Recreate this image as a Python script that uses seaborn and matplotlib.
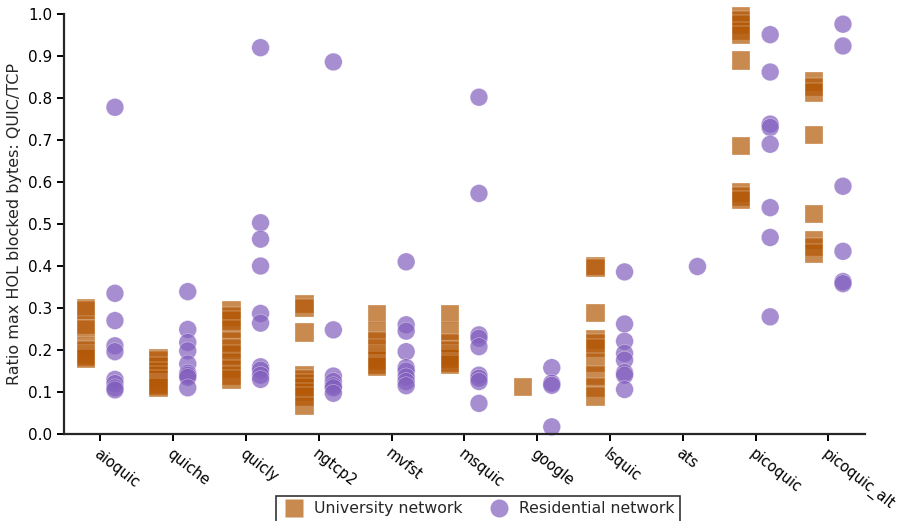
import pandas as pd
import matplotlib
matplotlib.use("Agg")
import matplotlib.pyplot as plt
from matplotlib.lines import Line2D
import seaborn as sns

# --- data ---
implementations = ["aioquic", "quiche", "quicly", "ngtcp2", "mvfst", "msquic",
                   "google", "lsquic", "ats", "picoquic", "picoquic_alt"]
networks = ["University network", "Residential network"]

university = {
    "aioquic": [0.30, 0.295, 0.26, 0.25, 0.21, 0.20, 0.19, 0.185, 0.18],
    "quiche": [0.18, 0.175, 0.16, 0.15, 0.14, 0.13, 0.12, 0.115, 0.11],
    "quicly": [0.295, 0.28, 0.27, 0.25, 0.22, 0.205, 0.19, 0.17, 0.155, 0.14, 0.13],
    "ngtcp2": [0.31, 0.30, 0.242, 0.14, 0.13, 0.12, 0.11, 0.10, 0.09, 0.067],
    "mvfst": [0.286, 0.245, 0.22, 0.205, 0.19, 0.185, 0.18, 0.175, 0.165, 0.16],
    "msquic": [0.286, 0.245, 0.215, 0.20, 0.19, 0.185, 0.18, 0.17, 0.165],
    "google": [0.113],
    "lsquic": [0.40, 0.395, 0.288, 0.225, 0.215, 0.205, 0.17, 0.14, 0.11, 0.09],
    "ats": [],
    "picoquic": [0.995, 0.985, 0.975, 0.96, 0.95, 0.89, 0.686, 0.575, 0.565, 0.557],
    "picoquic_alt": [0.84, 0.826, 0.813, 0.712, 0.524, 0.462, 0.445, 0.43],
}
residential = {
    "aioquic": [0.778, 0.335, 0.27, 0.21, 0.196, 0.13, 0.12, 0.11, 0.105],
    "quiche": [0.339, 0.249, 0.218, 0.198, 0.167, 0.145, 0.14, 0.135, 0.11],
    "quicly": [0.92, 0.503, 0.464, 0.40, 0.287, 0.264, 0.16, 0.152, 0.14, 0.13],
    "ngtcp2": [0.886, 0.248, 0.138, 0.125, 0.115, 0.11, 0.097],
    "mvfst": [0.41, 0.26, 0.245, 0.196, 0.158, 0.15, 0.136, 0.125, 0.115],
    "msquic": [0.802, 0.573, 0.236, 0.228, 0.208, 0.14, 0.133, 0.125, 0.073],
    "google": [0.158, 0.121, 0.116, 0.017],
    "lsquic": [0.386, 0.262, 0.221, 0.192, 0.176, 0.146, 0.14, 0.106],
    "ats": [0.399],
    "picoquic": [0.951, 0.862, 0.738, 0.73, 0.69, 0.539, 0.468, 0.279],
    "picoquic_alt": [0.976, 0.924, 0.59, 0.435, 0.363, 0.358],
}

colors = {"University network": "#b35806", "Residential network": "#825fbe"}
markers = {"University network": "s", "Residential network": "o"}
sizes = {"University network": 13.4, "Residential network": 12.8}


def build_frame():
    rows = []
    for net, values in zip(networks, [university, residential]):
        for impl in implementations:
            for v in values[impl]:
                rows.append({"Implementation": impl, "Network": net, "Ratio": v})
    return pd.DataFrame(rows)


def main():
    df = build_frame()
    sns.set_style("ticks")
    plt.rcParams["font.family"] = ["DejaVu Sans"]

    fig = plt.figure(figsize=(9.09, 5.21), dpi=100)
    ax = fig.add_axes([0.0704, 0.167, 0.881, 0.806])

    for net in networks:
        sns.stripplot(data=df[df["Network"] == net], x="Implementation", y="Ratio",
                      hue="Network", hue_order=networks, order=implementations,
                      palette=colors, dodge=True, jitter=False, marker=markers[net],
                      size=sizes[net], alpha=0.7, edgecolor="white", linewidth=0.3,
                      clip_on=False, zorder=3, legend=False, ax=ax)

    ax.set_xlim(-0.5, len(implementations) - 0.5)
    ax.set_ylim(0, 1.0)
    ax.set_yticks([i / 10 for i in range(11)])
    ax.set_yticklabels([f"{i / 10:.1f}" for i in range(11)], fontsize=11)
    ax.set_xlabel("")
    ax.set_ylabel("Ratio max HOL blocked bytes: QUIC/TCP", fontsize=11.5)
    ax.set_xticks(range(len(implementations)))
    ax.set_xticklabels(implementations, rotation=-38, ha="left", va="top",
                       rotation_mode="anchor", fontsize=10.5)
    sns.despine(ax=ax)
    for side in ["left", "bottom"]:
        ax.spines[side].set_linewidth(1.6)
        ax.spines[side].set_zorder(5)
    ax.tick_params(axis="both", width=1.4, length=5, color="black", labelcolor="black")

    handles = [
        Line2D([], [], linestyle="none", marker=markers[net], markersize=13,
               markerfacecolor=colors[net], markeredgecolor="none", alpha=0.7,
               label=net)
        for net in networks
    ]
    leg = ax.legend(handles=handles, loc="upper center", bbox_to_anchor=(0.517, -0.128),
                    ncol=2, frameon=True, fancybox=False, fontsize=11.3,
                    handletextpad=0.5, columnspacing=1.5, borderpad=0.35,
                    handlelength=1.6)
    leg.get_frame().set_edgecolor("black")
    leg.get_frame().set_linewidth(1.2)

    fig.savefig("out.png", dpi=100)
    plt.close(fig)


if __name__ == "__main__":
    main()
